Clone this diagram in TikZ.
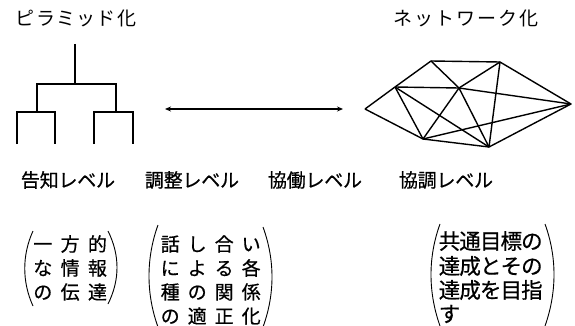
\documentclass[tikz,border=0pt]{standalone}
\usepackage{fontspec}
\setmainfont{Noto Sans CJK JP}
\newfontfamily\jp[FakeBold=0.6]{Noto Sans CJK JP}
\newfontfamily\jplight{Noto Sans CJK JP}
\makeatletter
\newcommand\spreadch[2]{\@tfor\myc:=#2\do{\makebox[#1]{\myc}}}
\makeatother
\usetikzlibrary{arrows.meta}
\begin{document}
\begin{tikzpicture}[x=1pt,y=-1pt,
  tree/.style={line width=1.2pt},
  net/.style={line width=1.4pt,line join=round},
  paren/.style={line width=0.9pt},
  title/.style={font=\fontsize{19}{19}\selectfont\jplight,inner sep=0pt},
  level/.style={font=\fontsize{19}{19}\selectfont\jp,inner sep=0pt},
  body/.style={font=\fontsize{19}{19}\selectfont\jp,inner sep=0pt,anchor=west},
  bodyb/.style={font=\fontsize{21.5}{21.5}\selectfont\jp,inner sep=0pt,anchor=west}]
\useasboundingbox (0,0) rectangle (575,326);
% titles
\node[title] (t1) at (76,18) {\spreadch{20.3pt}{ピラミッド化}};
\node[title] (t2) at (466,18) {\spreadch{21pt}{ネットワーク化}};
% pyramid
\coordinate (p0) at (75,44);
\coordinate (p1) at (75,84);
\coordinate (pl) at (37,84);
\coordinate (pr) at (116,84);
\coordinate (pl2) at (37,112);
\coordinate (pr2) at (116,112);
\coordinate (a1) at (17,144);
\coordinate (a2) at (55,144);
\coordinate (a3) at (94,144);
\coordinate (a4) at (133,144);
\draw[tree] (p0) -- (p1);
\draw[tree] (pl2) -- (pl) -- (pr) -- (pr2);
\draw[tree] (a1) |- (pl2) -| (a2);
\draw[tree] (a3) |- (pr2) -| (a4);
% arrow
\coordinate (arL) at (165,109);
\coordinate (arR) at (343,109);
\draw[line width=1.3pt,{Stealth[length=6pt,width=5pt]}-{Stealth[length=6pt,width=5pt]}] (arL) -- (arR);
% network
\coordinate (A) at (365,109);
\coordinate (B) at (395,87);
\coordinate (C) at (431,61);
\coordinate (D) at (500,62);
\coordinate (E) at (571,104);
\coordinate (F) at (489,147);
\coordinate (G) at (423,139);
\coordinate (H) at (459,88);
\draw[net] (A) -- (B) -- (C) -- (D) -- (E) -- (F) -- (G) -- (A);
\draw[net] (B) -- (H) -- (E);
\draw[net] (C) -- (H) -- (D);
\draw[net] (D) -- (F);
\draw[net] (G) -- (H) -- (F);
\draw[net] (B) -- (G);
\draw[net] (B) -- (F);
\draw[net] (G) -- (E);
% levels
\node[level] (l1) at (68,180) {\spreadch{18.8pt}{告知レベル}};
\node[level] (l2) at (192,180) {\spreadch{18.8pt}{調整レベル}};
\node[level] (l3) at (315,180) {\spreadch{18.8pt}{協働レベル}};
\node[level] (l4) at (446,180) {\spreadch{18.8pt}{協調レベル}};
% block 1
\node[body] (b1r1) at (29,244) {\spreadch{27.3pt}{一方的}};
\node[body] (b1r2) at (29,268) {\spreadch{27.3pt}{な情報}};
\node[body] (b1r3) at (29,292) {\spreadch{27.3pt}{の伝達}};
\draw[paren] (33,231) .. controls (22,255) and (22,282) .. (33,306);
\draw[paren] (108,231) .. controls (120,255) and (120,280) .. (108,304);
% block 2
\node[body] (b2r1) at (156.5,244) {\spreadch{27pt}{話し合い}};
\node[body] (b2r2) at (156.5,268) {\spreadch{27pt}{による各}};
\node[body] (b2r3) at (156.5,292) {\spreadch{27pt}{種の関係}};
\node[body] (b2r4) at (156.5,316) {\spreadch{27pt}{の適正化}};
\draw[paren] (158,225) .. controls (146,258) and (146,294) .. (158,327);
\draw[paren] (263,227) .. controls (275,260) and (275,294) .. (263,327);
% block 3
\node[bodyb] (b3r1) at (439,241) {\spreadch{20.6pt}{共通目標の}};
\node[bodyb] (b3r2) at (439,266) {\spreadch{20.6pt}{達成とその}};
\node[bodyb] (b3r3) at (439,290) {\spreadch{20.6pt}{達成を目指}};
\node[bodyb] (b3r4) at (439,314) {\spreadch{20.6pt}{す}};
\draw[paren] (440,224) .. controls (428,257) and (428,292) .. (440,326);
\draw[paren] (545,224) .. controls (557,257) and (557,292) .. (545,326);
\end{tikzpicture}
\end{document}
